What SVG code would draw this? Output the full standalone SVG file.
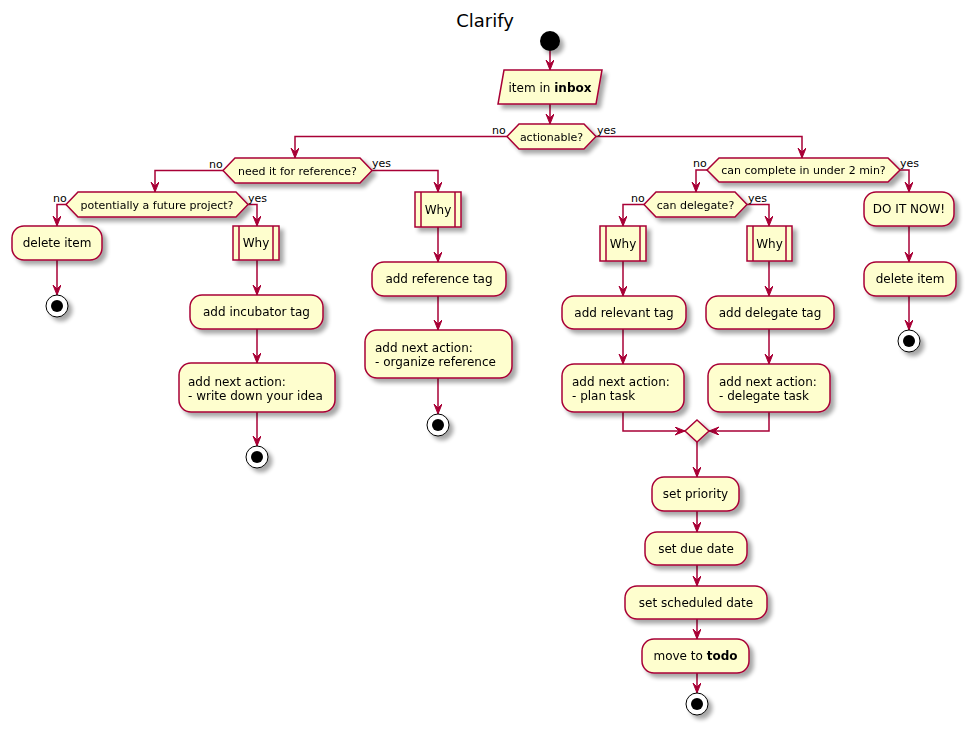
<svg xmlns="http://www.w3.org/2000/svg" width="971" height="731" viewBox="0 0 971 731">
<defs>
<style>
.box{fill:#FEFECE;stroke:#A80036;stroke-width:1.5}
.edge{fill:none;stroke:#A80036;stroke-width:1.5}
.t{font-family:"DejaVu Sans","Liberation Sans",sans-serif;font-size:12px;fill:#000}
.d{font-size:11px}
.c{text-anchor:middle}
.sh{filter:url(#sh)}
</style>
<filter id="sh" x="-20%" y="-20%" width="160%" height="180%">
<feGaussianBlur in="SourceAlpha" stdDeviation="2"/>
<feOffset dx="4" dy="4" result="o"/>
<feComponentTransfer><feFuncA type="linear" slope="0.35"/></feComponentTransfer>
<feMerge><feMergeNode/><feMergeNode in="SourceGraphic"/></feMerge>
</filter>
<marker id="ar" markerUnits="userSpaceOnUse" markerWidth="12" markerHeight="10" refX="10" refY="4" orient="auto">
<path d="M0,0 L10,4 L0,8 L4,4 Z" fill="#A80036" stroke="#A80036" stroke-width="1"/>
</marker>
</defs>
<rect width="971" height="731" fill="#FFFFFF"/>
<text class="t c" x="485" y="27" style="font-size:18px">Clarify</text>

<g id="connectors">
<path class="edge" marker-end="url(#ar)" d="M550,51 V70"/>
<path class="edge" marker-end="url(#ar)" d="M550,104 V124"/>
<path class="edge" marker-end="url(#ar)" d="M507,136.5 H295 V158"/>
<path class="edge" marker-end="url(#ar)" d="M596,136.5 H802 V158"/>
<path class="edge" marker-end="url(#ar)" d="M223,170.5 H155 V192"/>
<path class="edge" marker-end="url(#ar)" d="M372,170.5 H438 V192"/>
<path class="edge" marker-end="url(#ar)" d="M66,204.5 H57 V226"/>
<path class="edge" marker-end="url(#ar)" d="M248,204.5 H257 V226"/>
<path class="edge" marker-end="url(#ar)" d="M57,260 V295"/>
<path class="edge" marker-end="url(#ar)" d="M257,260 V295"/>
<path class="edge" marker-end="url(#ar)" d="M257,329 V363"/>
<path class="edge" marker-end="url(#ar)" d="M257,412 V446"/>
<path class="edge" marker-end="url(#ar)" d="M438,227 V262"/>
<path class="edge" marker-end="url(#ar)" d="M438,296 V330"/>
<path class="edge" marker-end="url(#ar)" d="M438,378 V414"/>
<path class="edge" marker-end="url(#ar)" d="M707,170 H696 V192"/>
<path class="edge" marker-end="url(#ar)" d="M900,170 H909 V192"/>
<path class="edge" marker-end="url(#ar)" d="M909,226 V262"/>
<path class="edge" marker-end="url(#ar)" d="M909,296 V330"/>
<path class="edge" marker-end="url(#ar)" d="M644,204.5 H623 V226"/>
<path class="edge" marker-end="url(#ar)" d="M747,204.5 H769 V226"/>
<path class="edge" marker-end="url(#ar)" d="M623,261 V296"/>
<path class="edge" marker-end="url(#ar)" d="M769,261 V296"/>
<path class="edge" marker-end="url(#ar)" d="M623,329 V364"/>
<path class="edge" marker-end="url(#ar)" d="M769,329 V364"/>
<path class="edge" marker-end="url(#ar)" d="M623,412 V431 H685"/>
<path class="edge" marker-end="url(#ar)" d="M769,412 V431 H709"/>
<path class="edge" marker-end="url(#ar)" d="M697,442 V477"/>
<path class="edge" marker-end="url(#ar)" d="M697,511 V532"/>
<path class="edge" marker-end="url(#ar)" d="M697,565 V586"/>
<path class="edge" marker-end="url(#ar)" d="M697,619 V639"/>
<path class="edge" marker-end="url(#ar)" d="M697,673 V693"/>
<g class="t d">
<text x="492" y="134">no</text>
<text x="597" y="134">yes</text>
<text x="209" y="168">no</text>
<text x="372" y="167">yes</text>
<text x="53" y="202">no</text>
<text x="248" y="202">yes</text>
<text x="693" y="167">no</text>
<text x="900" y="167">yes</text>
<text x="631" y="202">no</text>
<text x="748" y="202">yes</text>
</g>
</g>

<g id="start" class="sh"><circle cx="550" cy="41" r="10" fill="#000"/></g>

<g id="inbox" class="sh">
<polygon class="box" points="504,70 602,70 596,104 498,104"/>
<text class="t c" x="550" y="92">item in <tspan font-weight="bold">inbox</tspan></text>
</g>

<g id="actionable" class="sh">
<polygon class="box" points="507,136.5 519,124 584,124 596,136.5 584,149 519,149"/>
<text class="t d c" x="551.5" y="140.5">actionable?</text>
</g>

<g id="need_reference" class="sh">
<polygon class="box" points="223,170.5 235,158 360,158 372,170.5 360,183 235,183"/>
<text class="t d c" x="297.5" y="174.5">need it for reference?</text>
</g>

<g id="future_project" class="sh">
<polygon class="box" points="66,204.5 78,192 236,192 248,204.5 236,217 78,217"/>
<text class="t d c" x="157" y="208.5">potentially a future project?</text>
</g>

<g id="delete_item_1" class="sh">
<rect class="box" x="12" y="226" width="90" height="34" rx="12"/>
<text class="t c" x="57" y="247">delete item</text>
</g>
<g id="stop_1" class="sh"><circle cx="57" cy="306" r="11" fill="#fff" stroke="#000" stroke-width="1"/><circle cx="57" cy="306" r="6" fill="#000"/></g>

<g id="why_1" class="sh">
<rect class="box" x="233" y="226" width="46" height="34"/>
<line class="box" x1="239" y1="226" x2="239" y2="260"/>
<line class="box" x1="273" y1="226" x2="273" y2="260"/>
<text class="t c" x="256" y="247">Why</text>
</g>
<g id="incubator_tag" class="sh">
<rect class="box" x="190" y="295" width="133" height="34" rx="12"/>
<text class="t c" x="256.5" y="316">add incubator tag</text>
</g>
<g id="next_idea" class="sh">
<rect class="box" x="179" y="363" width="156" height="49" rx="12"/>
<text class="t" x="188" y="386">add next action:</text>
<text class="t" x="188" y="400">- write down your idea</text>
</g>
<g id="stop_2" class="sh"><circle cx="257" cy="457" r="11" fill="#fff" stroke="#000" stroke-width="1"/><circle cx="257" cy="457" r="6" fill="#000"/></g>

<g id="why_2" class="sh">
<rect class="box" x="415" y="192" width="46" height="35"/>
<line class="box" x1="421" y1="192" x2="421" y2="227"/>
<line class="box" x1="455" y1="192" x2="455" y2="227"/>
<text class="t c" x="438" y="214">Why</text>
</g>
<g id="reference_tag" class="sh">
<rect class="box" x="372" y="262" width="134" height="34" rx="12"/>
<text class="t c" x="439" y="283">add reference tag</text>
</g>
<g id="next_reference" class="sh">
<rect class="box" x="365" y="330" width="147" height="48" rx="12"/>
<text class="t" x="375" y="352">add next action:</text>
<text class="t" x="375" y="366">- organize reference</text>
</g>
<g id="stop_3" class="sh"><circle cx="438" cy="425" r="11" fill="#fff" stroke="#000" stroke-width="1"/><circle cx="438" cy="425" r="6" fill="#000"/></g>

<g id="two_min" class="sh">
<polygon class="box" points="707,170 719,158 888,158 900,170 888,182 719,182"/>
<text class="t d c" x="803.5" y="174">can complete in under 2 min?</text>
</g>
<g id="do_it_now" class="sh">
<rect class="box" x="864" y="192" width="90" height="34" rx="12"/>
<text class="t c" x="909" y="213">DO IT NOW!</text>
</g>
<g id="delete_item_2" class="sh">
<rect class="box" x="864" y="262" width="92" height="34" rx="12"/>
<text class="t c" x="910" y="283">delete item</text>
</g>
<g id="stop_4" class="sh"><circle cx="909" cy="341" r="11" fill="#fff" stroke="#000" stroke-width="1"/><circle cx="909" cy="341" r="6" fill="#000"/></g>

<g id="can_delegate" class="sh">
<polygon class="box" points="644,204.5 656,192 735,192 747,204.5 735,217 656,217"/>
<text class="t d c" x="695.5" y="208.5">can delegate?</text>
</g>
<g id="why_3" class="sh">
<rect class="box" x="600" y="226" width="46" height="35"/>
<line class="box" x1="606" y1="226" x2="606" y2="261"/>
<line class="box" x1="640" y1="226" x2="640" y2="261"/>
<text class="t c" x="623" y="248">Why</text>
</g>
<g id="relevant_tag" class="sh">
<rect class="box" x="562" y="296" width="124" height="33" rx="12"/>
<text class="t c" x="624" y="317">add relevant tag</text>
</g>
<g id="next_plan" class="sh">
<rect class="box" x="562" y="364" width="122" height="48" rx="12"/>
<text class="t" x="572" y="386">add next action:</text>
<text class="t" x="572" y="400">- plan task</text>
</g>
<g id="why_4" class="sh">
<rect class="box" x="747" y="226" width="45" height="35"/>
<line class="box" x1="753" y1="226" x2="753" y2="261"/>
<line class="box" x1="786" y1="226" x2="786" y2="261"/>
<text class="t c" x="769.5" y="248">Why</text>
</g>
<g id="delegate_tag" class="sh">
<rect class="box" x="706" y="296" width="128" height="33" rx="12"/>
<text class="t c" x="770" y="317">add delegate tag</text>
</g>
<g id="next_delegate" class="sh">
<rect class="box" x="708" y="364" width="122" height="48" rx="12"/>
<text class="t" x="719" y="386">add next action:</text>
<text class="t" x="719" y="400">- delegate task</text>
</g>
<g id="merge" class="sh">
<polygon class="box" points="697,420 709,431 697,442 685,431"/>
</g>
<g id="set_priority" class="sh">
<rect class="box" x="652" y="477" width="87" height="34" rx="12"/>
<text class="t c" x="695.5" y="498">set priority</text>
</g>
<g id="set_due_date" class="sh">
<rect class="box" x="645" y="532" width="102" height="33" rx="12"/>
<text class="t c" x="696" y="553">set due date</text>
</g>
<g id="set_scheduled" class="sh">
<rect class="box" x="625" y="586" width="142" height="33" rx="12"/>
<text class="t c" x="696" y="607">set scheduled date</text>
</g>
<g id="move_todo" class="sh">
<rect class="box" x="642" y="639" width="107" height="34" rx="12"/>
<text class="t c" x="695.5" y="660">move to <tspan font-weight="bold">todo</tspan></text>
</g>
<g id="stop_5" class="sh"><circle cx="697" cy="704" r="11" fill="#fff" stroke="#000" stroke-width="1"/><circle cx="697" cy="704" r="6" fill="#000"/></g>
</svg>
